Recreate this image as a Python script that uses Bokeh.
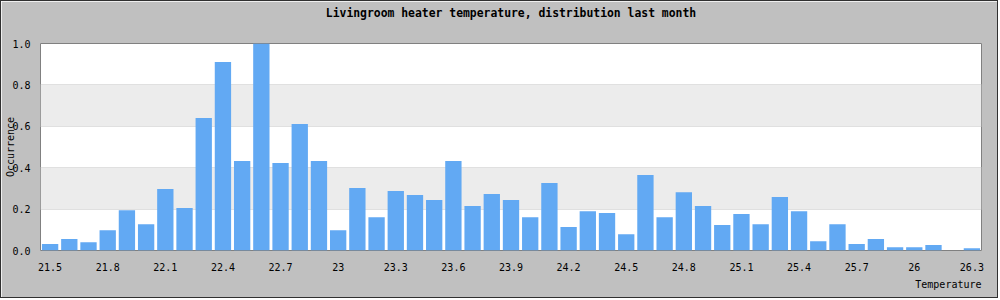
from bokeh.plotting import figure
from bokeh.models import FixedTicker, PrintfTickFormatter, Title, Range1d, LinearAxis
from bokeh.embed import file_html
from bokeh.resources import INLINE

title_text = "Livingroom heater temperature, distribution last month"
x_title = "Temperature"
y_title = "Occurrence"

temperatures = [21.5, 21.6, 21.7, 21.8, 21.9, 22.0, 22.1, 22.2, 22.3, 22.4,
                22.5, 22.6, 22.7, 22.8, 22.9, 23.0, 23.1, 23.2, 23.3, 23.4,
                23.5, 23.6, 23.7, 23.8, 23.9, 24.0, 24.1, 24.2, 24.3, 24.4,
                24.5, 24.6, 24.7, 24.8, 24.9, 25.0, 25.1, 25.2, 25.3, 25.4,
                25.5, 25.6, 25.7, 25.8, 25.9, 26.0, 26.1, 26.2, 26.3]
occurrence = [0.032, 0.055, 0.040, 0.098, 0.195, 0.127, 0.297, 0.205, 0.640, 0.911,
              0.432, 1.000, 0.423, 0.611, 0.432, 0.098, 0.302, 0.161, 0.287, 0.268,
              0.244, 0.432, 0.215, 0.273, 0.244, 0.161, 0.326, 0.113, 0.190, 0.181,
              0.079, 0.365, 0.161, 0.282, 0.215, 0.123, 0.176, 0.127, 0.258, 0.190,
              0.045, 0.127, 0.031, 0.055, 0.016, 0.016, 0.026, 0.000, 0.011]
x_ticks = [21.5, 21.8, 22.1, 22.4, 22.7, 23.0, 23.3, 23.6, 23.9, 24.2, 24.5,
           24.8, 25.1, 25.4, 25.7, 26.0, 26.3]
x_tick_labels = ["21.5", "21.8", "22.1", "22.4", "22.7", "23", "23.3", "23.6",
                 "23.9", "24.2", "24.5", "24.8", "25.1", "25.4", "25.7", "26", "26.3"]
y_ticks = [0.0, 0.2, 0.4, 0.6, 0.8, 1.0]

FONT = "DejaVu Sans Mono"
X0, X1 = 21.45, 26.35

p = figure(width=998, height=298, output_backend="svg", toolbar_location=None,
           x_range=Range1d(X0, X1), y_range=Range1d(0, 1.0),
           min_border_left=39, min_border_right=18, min_border_top=42,
           min_border_bottom=49)
p.styles = {"border": "1px solid #303030"}
p.background_fill_color = "white"
p.border_fill_color = "#c0c0c0"
p.outline_line_color = "#808080"
p.outline_line_width = 1

p.vbar(x=temperatures, top=occurrence, width=0.085, bottom=0,
       fill_color="#62a9f3", line_color=None)

# axes
p.xaxis.ticker = FixedTicker(ticks=x_ticks)
p.xaxis.major_label_overrides = {t: l for t, l in zip(x_ticks, x_tick_labels)}
p.yaxis.ticker = FixedTicker(ticks=y_ticks)
p.yaxis.formatter = PrintfTickFormatter(format="%.1f")
for ax in (p.xaxis[0], p.yaxis[0]):
    ax.axis_line_color = None
    ax.major_tick_line_color = None
    ax.minor_tick_line_color = None
    ax.major_tick_out = 0
    ax.major_tick_in = 0
    ax.major_label_text_font = FONT
    ax.major_label_text_font_size = "10px"
    ax.major_label_text_color = "black"
p.xaxis.major_label_standoff = 12
p.yaxis.major_label_standoff = 10
p.yaxis.axis_label = y_title
p.yaxis.axis_label_text_font = FONT
p.yaxis.axis_label_text_font_size = "10px"
p.yaxis.axis_label_text_font_style = "normal"
p.yaxis.axis_label_text_color = "black"
p.yaxis.axis_label_standoff = -7

p.xgrid.grid_line_color = None
p.ygrid.ticker = FixedTicker(ticks=y_ticks)
p.ygrid.grid_line_color = "#e0e0e0"
p.ygrid.band_fill_color = "#ececec"
p.ygrid.band_fill_alpha = 1.0

# chart title drawn as the label of a tick-less axis above the frame
title_axis = LinearAxis(ticker=FixedTicker(ticks=[]),
                        axis_label=title_text, axis_label_standoff=24,
                        axis_label_text_font=FONT, axis_label_text_font_size="11.4px",
                        axis_label_text_font_style="bold", axis_label_text_color="black",
                        axis_line_color=None, major_tick_line_color=None,
                        minor_tick_line_color=None, major_tick_out=0, major_tick_in=0,
                        major_label_standoff=0)
p.add_layout(title_axis, "above")

p.add_layout(Title(text=x_title, align="right", offset=0, standoff=6,
                   text_font=FONT, text_font_size="10px", text_font_style="normal",
                   text_color="black"), "below")

open("out.html", "w").write(file_html(p, INLINE))
